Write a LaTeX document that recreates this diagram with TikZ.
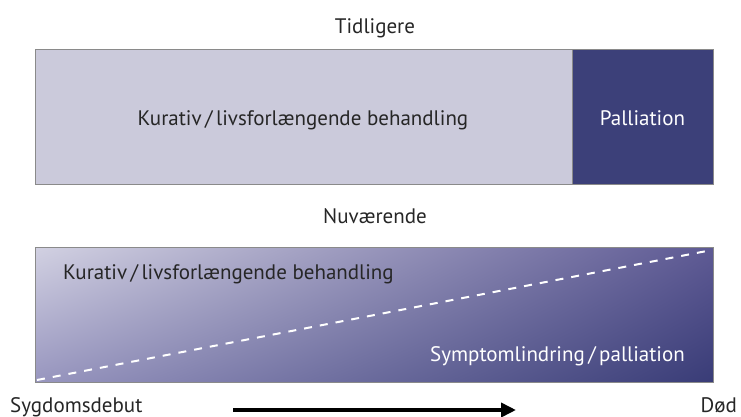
\documentclass[tikz,border=0pt]{standalone}
\usepackage{fontspec}
\setmainfont{PT Sans}
\usetikzlibrary{arrows.meta,shadings}
\definecolor{lightbox}{HTML}{CBCADB}
\definecolor{darkbox}{HTML}{3C4079}
\definecolor{gtl}{HTML}{D2D1E2}
\definecolor{gtr}{HTML}{5E5A94}
\definecolor{gbl}{HTML}{9896BF}
\definecolor{gbr}{HTML}{393C77}
\definecolor{edge}{HTML}{8A8A8A}
\begin{document}
\begin{tikzpicture}[x=1pt,y=-1pt,
  lbl/.style={font=\fontsize{21}{23}\selectfont, inner sep=0pt, text=black!85},
  wlbl/.style={lbl, text=white},
  boxedge/.style={draw=edge, line width=1pt}]
\useasboundingbox (0,0) rectangle (741,417);
% top panel
\fill[lightbox] (35,50) rectangle (572,184);
\fill[darkbox] (572,50) rectangle (713,184);
\draw[boxedge] (35,50) rectangle (713,184);
\draw[edge, line width=0.8pt] (572,50) -- (572,184);
\node[lbl, anchor=base] (tid) at (375,34) {Tidligere};
\node[lbl, anchor=base] (kur1) at (303,125) {Kurativ\,/\,livsforlængende behandling};
\node[wlbl, anchor=base] (pal1) at (642.5,125) {Palliation};
\node[lbl, anchor=base] (nuv) at (375,223) {Nuværende};
% bottom panel
\shade[upper left=gtl, upper right=gtr, lower left=gbl, lower right=gbr] (35,247) rectangle (713,382);
\draw[boxedge] (35,247) rectangle (713,382);
\coordinate (ds) at (37,380);
\coordinate (de) at (712,250);
\draw[white, line width=2pt, dash pattern=on 8pt off 8pt] (ds) -- (de);
\node[lbl, anchor=base west] (kur2) at (63,279) {Kurativ\,/\,livsforlængende behandling};
\node[wlbl, anchor=base east] (pal2) at (685,361) {Symptomlindring\,/\,palliation};
% timeline
\node[lbl, anchor=base west] (start) at (10,412) {Sygdomsdebut};
\node[lbl, anchor=base east] (end) at (737,412) {Død};
\coordinate (a1) at (233,410);
\coordinate (a2) at (516,410);
\draw[line width=3.6pt, -{Triangle[length=15pt,width=14pt]}] (a1) -- (a2);
\end{tikzpicture}
\end{document}
